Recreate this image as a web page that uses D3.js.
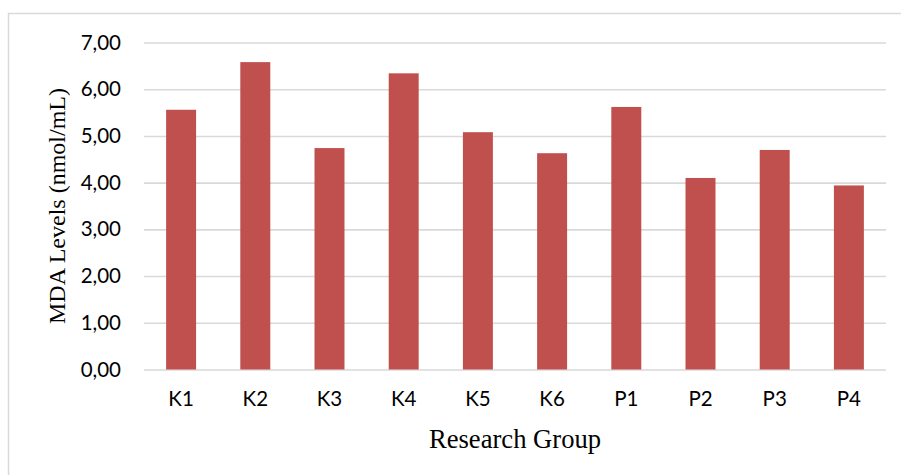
<!DOCTYPE html>
<html>
<head>
<meta charset="utf-8">
<script src="https://cdn.jsdelivr.net/npm/d3@7"></script>
<style>
  html, body { margin: 0; padding: 0; background: #fff; }
  svg { display: block; }
</style>
</head>
<body>
<svg id="chart" width="901" height="475"></svg>
<script>
// MDA levels per research group
const groups = ["K1", "K2", "K3", "K4", "K5", "K6", "P1", "P2", "P3", "P4"];
const mdaLevels = [5.56, 6.58, 4.74, 6.34, 5.08, 4.63, 5.62, 4.10, 4.70, 3.94];
const yTicks = [0, 1, 2, 3, 4, 5, 6, 7];

const svg = d3.select("#chart");
const W = 901, H = 475;
const margin = { left: 144, right: 15, top: 42.5, bottom: 105.5 };
const plotW = W - margin.left - margin.right;
const plotH = H - margin.top - margin.bottom;

// outer chart frame (runs off the right and bottom edges)
svg.append("rect")
  .attr("x", 8.5).attr("y", 13.5)
  .attr("width", W + 10).attr("height", H + 10)
  .attr("fill", "none").attr("stroke", "#d9d9d9").attr("stroke-width", 1.5);

const g = svg.append("g").attr("transform", `translate(${margin.left},${margin.top})`);

const x = d3.scaleBand().domain(groups).range([0, plotW]).paddingInner(0.596).paddingOuter(0.298);
const y = d3.scaleLinear().domain([0, 7]).range([plotH, 0]);

const fmt = d => d.toFixed(2).replace(".", ",");

// horizontal gridlines + y tick labels
const yAxis = d3.axisLeft(y).tickValues(yTicks).tickSize(-plotW).tickPadding(23).tickFormat(fmt);
const ya = g.append("g").call(yAxis);
ya.select(".domain").remove();
ya.selectAll(".tick line").attr("stroke", "#d9d9d9").attr("stroke-width", 1.6);
ya.selectAll(".tick text")
  .attr("font-family", "Lato, 'Open Sans', sans-serif")
  .attr("font-size", 20.5).attr("fill", "#000");

// bars
g.selectAll("rect.bar")
  .data(groups)
  .join("rect")
  .attr("class", "bar")
  .attr("x", d => x(d))
  .attr("width", x.bandwidth())
  .attr("y", (d, i) => y(mdaLevels[i]))
  .attr("height", (d, i) => plotH - y(mdaLevels[i]))
  .attr("fill", "#C0504D");

// category axis
const xAxis = d3.axisBottom(x).tickSize(0).tickPadding(22);
const xa = g.append("g").attr("transform", `translate(0,${plotH})`).call(xAxis);
xa.select(".domain").remove();
xa.selectAll(".tick text")
  .attr("font-family", "Lato, 'Open Sans', sans-serif")
  .attr("font-size", 20.5).attr("fill", "#000");

// axis titles
svg.append("text")
  .attr("x", margin.left + plotW / 2).attr("y", 448)
  .attr("text-anchor", "middle")
  .attr("font-family", "'Liberation Serif', 'Times New Roman', serif")
  .attr("font-size", 26.6).attr("fill", "#000")
  .text("Research Group");

svg.append("text")
  .attr("transform", `translate(65,206) rotate(-90)`)
  .attr("text-anchor", "middle")
  .attr("font-family", "'Liberation Serif', 'Times New Roman', serif")
  .attr("font-size", 24).attr("fill", "#000")
  .text("MDA Levels (nmol/mL)");
</script>
</body>
</html>
